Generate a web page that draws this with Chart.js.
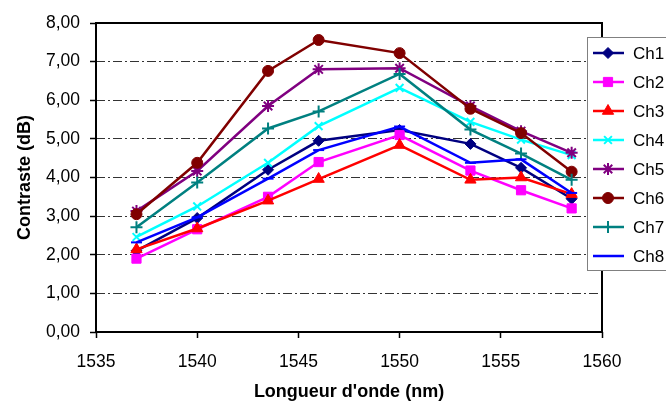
<!DOCTYPE html>
<html>
<head>
<meta charset="utf-8">
<script src="https://cdn.jsdelivr.net/npm/chart.js@4"></script>
<style>
  body { margin: 0; background: #fff; }
  #wrap { width: 666px; height: 403px; position: relative; }
</style>
</head>
<body>
<div id="wrap"><canvas id="contrastChart"></canvas></div>
<script>
// wavelengths (nm)
const wavelengths = [1537, 1540, 1543.5, 1546, 1550, 1553.5, 1556, 1558.5];

// contrast per channel (dB)
const ch1 = [2.10, 2.95, 4.20, 4.95, 5.23, 4.87, 4.25, 3.45];
const ch2 = [1.90, 2.66, 3.50, 4.40, 5.10, 4.18, 3.67, 3.20];
const ch3 = [2.14, 2.68, 3.40, 3.96, 4.84, 3.94, 4.00, 3.57];
const ch4 = [2.46, 3.25, 4.38, 5.33, 6.32, 5.44, 4.98, 4.58];
const ch5 = [3.13, 4.17, 5.85, 6.80, 6.83, 5.85, 5.20, 4.64];
const ch6 = [3.05, 4.38, 6.76, 7.56, 7.22, 5.78, 5.15, 4.15];
const ch7 = [2.71, 3.87, 5.27, 5.71, 6.68, 5.24, 4.62, 3.94];
const ch8 = [2.32, 2.97, 3.97, 4.71, 5.32, 4.38, 4.47, 3.60];

const channelNames = ["Ch1", "Ch2", "Ch3", "Ch4", "Ch5", "Ch6", "Ch7", "Ch8"];
const channelValues = [ch1, ch2, ch3, ch4, ch5, ch6, ch7, ch8];

const colors = ["#000080", "#ff00ff", "#ff0000", "#00ffff", "#800080", "#800000", "#008080", "#0000ff"];
const markers = ["rectRot", "rect", "triangle", "crossRot", "star", "circle", "cross", "line"];
const markerSizes = [5.5, 6.5, 6.5, 5.5, 6, 5.5, 6, 5.5];

const FONT = "Arial, 'Liberation Sans', sans-serif";

const datasets = channelNames.map((name, i) => ({
  label: name,
  data: wavelengths.map((x, j) => ({ x: x, y: channelValues[i][j] })),
  borderColor: colors[i],
  backgroundColor: colors[i],
  borderWidth: 2.5,
  pointStyle: markers[i],
  pointRadius: markerSizes[i],
  pointBorderWidth: markers[i] === "rect" || markers[i] === "rectRot" || markers[i] === "circle" || markers[i] === "triangle" ? 1 : 2,
  tension: 0,
  fill: false,
  order: 8 - i
}));

// plot frame drawn under the lines
const framePlugin = {
  id: "frame",
  beforeDatasetsDraw(chart) {
    const { ctx, chartArea: a } = chart;
    ctx.save();
    ctx.strokeStyle = "#000";
    ctx.lineWidth = 2;
    ctx.strokeRect(a.left, a.top, a.right - a.left, a.bottom - a.top);
    ctx.restore();
  }
};

// legend box sitting over the right edge of the plot
const legendPlugin = {
  id: "boxLegend",
  afterDraw(chart) {
    const ctx = chart.ctx;
    const left = 587, top = 37, rowH = 29;
    ctx.save();
    ctx.fillStyle = "#fff";
    ctx.fillRect(left, top, 120, 233);
    ctx.strokeStyle = "#808080";
    ctx.lineWidth = 1;
    ctx.strokeRect(left + 0.5, top + 0.5, 120, 233);
    chart.data.datasets.forEach((ds, i) => {
      const y = top + 16 + i * rowH;
      ctx.strokeStyle = ds.borderColor;
      ctx.lineWidth = 2.5;
      ctx.beginPath();
      ctx.moveTo(left + 6, y);
      ctx.lineTo(left + 37, y);
      ctx.stroke();
      ctx.fillStyle = ds.backgroundColor;
      ctx.lineWidth = ds.pointBorderWidth;
      Chart.helpers.drawPoint(ctx, { pointStyle: ds.pointStyle, radius: ds.pointRadius, rotation: 0, borderWidth: ds.pointBorderWidth }, left + 21, y);
      ctx.fillStyle = "#000";
      ctx.font = "17px " + FONT;
      ctx.textBaseline = "middle";
      ctx.fillText(ds.label, left + 46, y + 1);
    });
    ctx.restore();
  }
};

new Chart(document.getElementById("contrastChart"), {
  type: "line",
  data: { datasets: datasets },
  options: {
    responsive: true,
    maintainAspectRatio: false,
    animation: false,
    layout: { padding: { top: 23, right: 64, left: 0, bottom: 0 } },
    plugins: {
      legend: { display: false },
      tooltip: { enabled: false }
    },
    scales: {
      x: {
        type: "linear",
        min: 1535,
        max: 1560,
        afterFit(scale) { scale.height = 71; },
        ticks: {
          stepSize: 5,
          color: "#000",
          padding: 14,
          font: { family: FONT, size: 17.5 },
          callback: (v) => String(v)
        },
        grid: {
          drawOnChartArea: false,
          drawTicks: true,
          tickLength: 6,
          tickColor: "#000",
          tickWidth: 1.5
        },
        border: { display: false },
        title: {
          display: true,
          text: "Longueur d'onde (nm)",
          color: "#000",
          font: { family: FONT, size: 18, weight: "bold" },
          padding: { top: 0, bottom: 0 }
        }
      },
      y: {
        min: 0,
        max: 8,
        afterFit(scale) { scale.width = 96; },
        ticks: {
          stepSize: 1,
          color: "#000",
          padding: 10,
          font: { family: FONT, size: 17.5 },
          callback: (v) => v.toFixed(2).replace(".", ",")
        },
        grid: {
          color: (c) => (c.tick && (c.tick.value === 0 || c.tick.value === 8)) ? "rgba(0,0,0,0)" : "#333",
          lineWidth: 1,
          tickLength: 6,
          tickColor: "#000",
          tickWidth: 1.5,
          tickBorderDash: []
        },
        border: { display: false, dash: [9, 3, 2, 3] },
        title: {
          display: true,
          text: "Contraste (dB)",
          color: "#000",
          font: { family: FONT, size: 18, weight: "bold" },
          padding: { top: 14, bottom: 0 }
        }
      }
    }
  },
  plugins: [framePlugin, legendPlugin]
});
</script>
</body>
</html>
